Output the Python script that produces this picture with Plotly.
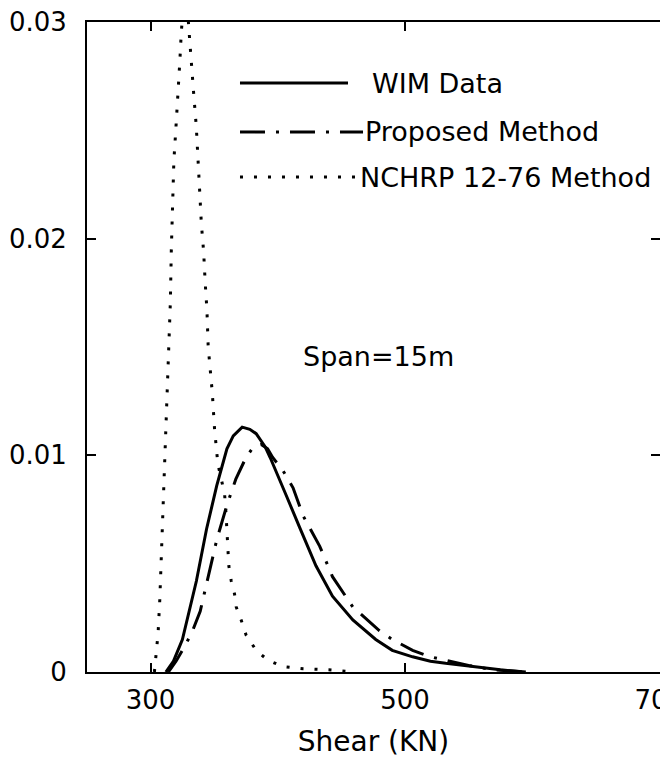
import plotly.graph_objects as go

# ---- data ----
wim_x = [312, 318, 325, 331, 336, 344, 352, 360, 365, 372, 378, 383, 390, 394, 400,
         407, 417, 430, 443, 459, 477, 490, 506, 520, 532, 545, 558, 575, 595]
wim_y = [0.0000, 0.0005, 0.0015, 0.0029, 0.0042, 0.0066, 0.0086, 0.0103, 0.0109, 0.0113,
         0.0112, 0.0110, 0.0104, 0.0099, 0.0091, 0.0081, 0.0067, 0.0049, 0.0035, 0.0024,
         0.0015, 0.0010, 0.0007, 0.0005, 0.0004, 0.0003, 0.0002, 0.0001, 0.0000]

prop_x = [314, 320, 327, 333, 339, 345, 352, 360, 367, 375, 381, 387, 392, 396, 404,
          412, 420, 433, 443, 459, 470, 480, 490, 506, 520, 535, 550, 570, 595]
prop_y = [0.0000, 0.0005, 0.0012, 0.0019, 0.0028, 0.0043, 0.0061, 0.0077, 0.0089, 0.0099,
          0.0104, 0.0105, 0.0103, 0.0099, 0.0093, 0.0085, 0.0072, 0.0058, 0.0044, 0.0030,
          0.0024, 0.0019, 0.0015, 0.0010, 0.0007, 0.0005, 0.0003, 0.0001, 0.0000]

nchrp_x = [303, 305.9, 307.2, 308.2, 309.8, 311.2, 312.4, 313.7, 314.5, 315.5, 316.3,
           317.1, 318.3, 320.0, 321.6, 323.0, 324.2, 327.5, 330.7, 332.1, 334.0, 335.9,
           337.3, 338.4, 339.9, 341.7, 342.9, 344.3, 345.3, 347.0, 348.5, 350.3, 351.6,
           352.9, 355.6, 358.2, 359.3, 360.5, 361.5, 363.4, 366.0, 367.3, 371.2, 375.1,
           383.0, 392.1, 403.9, 420, 440, 460]
nchrp_y = [0.0000, 0.0018, 0.0033, 0.0050, 0.0073, 0.0099, 0.0119, 0.0134, 0.0148, 0.0170,
           0.0195, 0.0217, 0.0236, 0.0252, 0.0266, 0.0282, 0.0296, 0.0318, 0.0292, 0.0279,
           0.0266, 0.0252, 0.0239, 0.0224, 0.0207, 0.0194, 0.0180, 0.0167, 0.0150, 0.0138,
           0.0129, 0.0112, 0.0102, 0.0096, 0.0089, 0.0082, 0.0073, 0.0058, 0.0049, 0.0042,
           0.0036, 0.0030, 0.0024, 0.0017, 0.0010, 0.00055, 0.00025, 0.00015, 0.0001, 0.0000]

series_names = ["WIM Data", "Proposed Method", "NCHRP 12-76 Method"]
x_ticks = [300, 500, 700]
y_ticks = [0, 0.01, 0.02, 0.03]
y_tick_labels = ["0", "0.01", "0.02", "0.03"]
span_label = "Span=15m"

FONT = "DejaVu Sans, Verdana, sans-serif"
FS = 26
FS_TXT = 27
dashdot = "25px,11px,3px,11px"
dotted = "3px,11px"

fig = go.Figure()
fig.add_trace(go.Scatter(x=wim_x, y=wim_y, mode="lines", name=series_names[0],
                         line=dict(color="black", width=3)))
fig.add_trace(go.Scatter(x=prop_x, y=prop_y, mode="lines", name=series_names[1],
                         line=dict(color="black", width=3, dash=dashdot)))
fig.add_trace(go.Scatter(x=nchrp_x, y=nchrp_y, mode="lines", name=series_names[2],
                         line=dict(color="black", width=3, dash=dotted)))

# legend drawn as MATLAB-style box-less legend
leg_rows = [(0.906, "solid", 0.4555, 0.494), (0.8308, dashdot, 0.4817, 0.482),
            (0.7615, dotted, 0.4764, 0.473)]
shapes = []
annots = []
for (yy, dsh, x1, xt), name in zip(leg_rows, series_names):
    shapes.append(dict(type="line", xref="paper", yref="paper", x0=0.267, x1=x1,
                       y0=yy, y1=yy, line=dict(color="black", width=3, dash=dsh)))
    annots.append(dict(xref="paper", yref="paper", x=xt, y=yy, text=name,
                       showarrow=False, xanchor="left", yanchor="middle",
                       font=dict(family=FONT, size=FS_TXT, color="black")))
annots.append(dict(x=479, y=0.01454, xref="x", yref="y", text=span_label,
                   showarrow=False, xanchor="center", yanchor="middle",
                   font=dict(family=FONT, size=FS_TXT, color="black")))

fig.update_layout(
    width=660, height=764,
    margin=dict(l=87, r=0, t=22, b=92, autoexpand=False),
    paper_bgcolor="white", plot_bgcolor="white",
    showlegend=False,
    font=dict(family=FONT, size=FS, color="black"),
    shapes=shapes, annotations=annots,
    xaxis=dict(range=[250, 700.5], tickvals=x_ticks, ticks="inside", ticklen=9,
               tickwidth=1.5, tickcolor="black", showline=True, linecolor="black",
               linewidth=2, mirror="ticks", showgrid=False, zeroline=False,
               ticklabelstandoff=4, ticklabeloverflow="allow", automargin=False,
               title=dict(text="Shear (KN)", standoff=17,
                          font=dict(family=FONT, size=28))),
    yaxis=dict(range=[0, 0.03], tickvals=y_ticks, ticktext=y_tick_labels,
               ticks="inside", ticklen=9, tickwidth=1.5, tickcolor="black",
               showline=True, linecolor="black", linewidth=2, mirror="ticks",
               showgrid=False, zeroline=False, ticklabelstandoff=13,
               ticklabeloverflow="allow", automargin=False),
)

fig.write_html("out.html")
